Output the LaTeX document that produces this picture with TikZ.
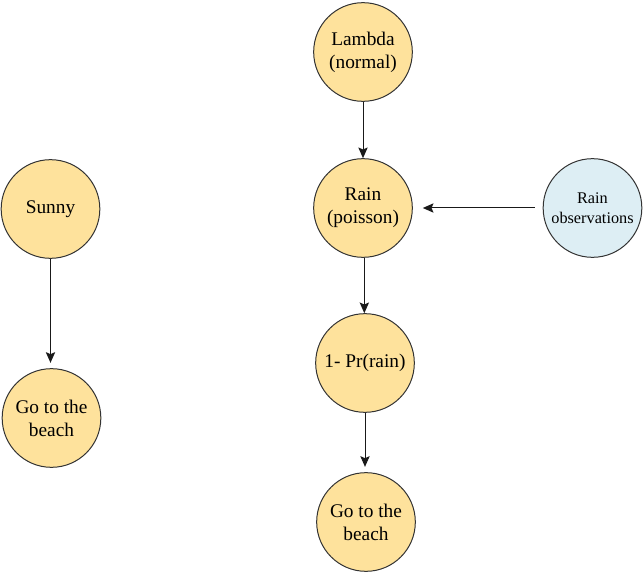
\documentclass[tikz,border=0pt]{standalone}
\usepackage{fontspec}
\setmainfont{Liberation Serif}
\usetikzlibrary{arrows.meta}
\definecolor{yfill}{HTML}{FEE29C}
\definecolor{bfill}{HTML}{DDEEF4}
\definecolor{edge}{HTML}{333333}
\tikzset{
  ynode/.style={circle, draw=edge, line width=0.75pt, fill=yfill, minimum size=74pt, inner sep=0pt, align=center, font=\fontsize{14.5}{17.2}\selectfont},
  bnode/.style={circle, draw=edge, line width=0.75pt, fill=bfill, minimum size=74pt, inner sep=0pt, align=center, font=\fontsize{12.2}{15}\selectfont},
  conn/.style={draw=black!90, line width=0.75pt, -{Stealth[length=8pt,width=7pt,inset=1.5pt]}}
}
\begin{document}
\begin{tikzpicture}[x=0.75pt,y=-0.75pt]
\useasboundingbox (0,0) rectangle (644,574);
\node[ynode] (lambda) at (363,52) {Lambda\\(normal)};
\node[ynode] (rain) at (363,208) {Rain\\(poisson)};
\node[bnode] (obs) at (592.5,208) {Rain\\observations};
\node[ynode] (pr) at (365,363) {1- Pr(rain)};
\node[ynode] (beach2) at (366,522) {Go to the\\beach};
\node[ynode] (sunny) at (50.5,209) {Sunny};
\node[ynode] (beach1) at (51.5,418) {Go to the\\beach};
\draw[conn] (lambda) -- (rain);
\draw[conn, shorten <=6pt, shorten >=7.5pt] (obs) -- (rain);
\draw[conn] ([xshift=1pt]rain.south) -- ([xshift=1pt]rain.south |- pr.north);
\draw[conn, shorten >=4pt] (pr.south) -- (pr.south |- beach2.north);
\draw[conn, shorten >=4pt] (sunny.south) -- (sunny.south |- beach1.north);
\end{tikzpicture}
\end{document}
